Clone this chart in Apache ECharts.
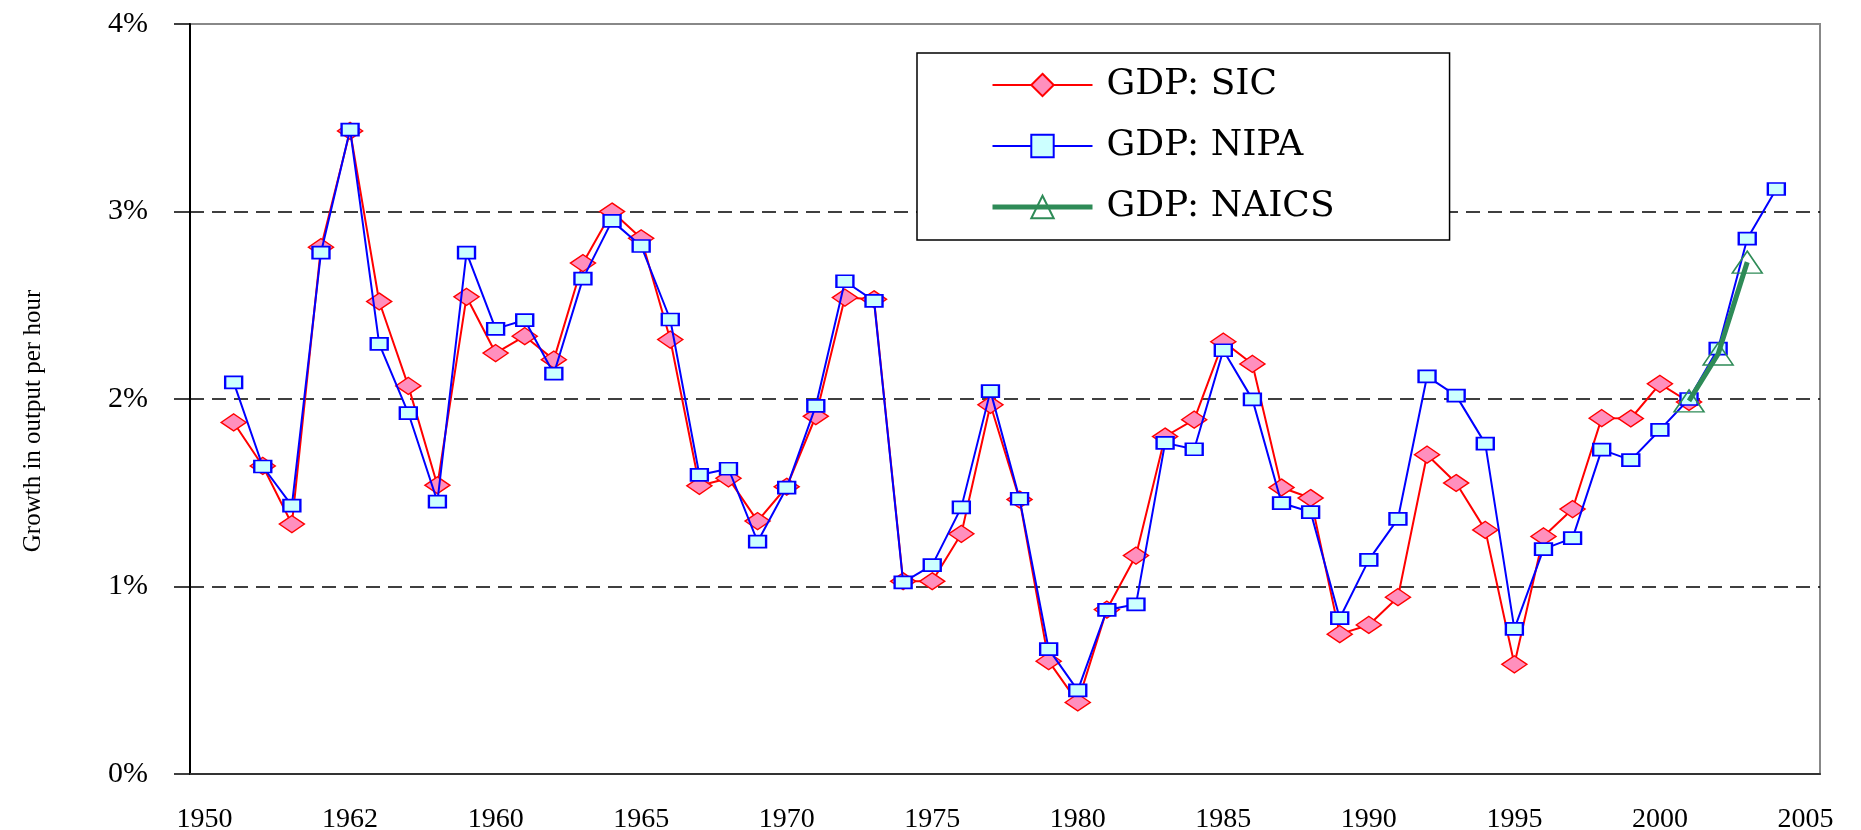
<!DOCTYPE html>
<html>
<head>
<meta charset="utf-8">
<title>Growth in output per hour</title>
<script src="https://cdn.jsdelivr.net/npm/echarts@6/dist/echarts.min.js"></script>
<style>
  html, body { margin: 0; padding: 0; background: #fff; }
  #chart { width: 1861px; height: 830px; }
</style>
</head>
<body>
<div id="chart"></div>
<script>
// one band per year on the x axis
const years = [
  '1950', '1951', '1952', '1953', '1954', '1955', '1956', '1957', '1958', '1959',
  '1960', '1961', '1962', '1963', '1964', '1965', '1966', '1967', '1968', '1969',
  '1970', '1971', '1972', '1973', '1974', '1975', '1976', '1977', '1978', '1979',
  '1980', '1981', '1982', '1983', '1984', '1985', '1986', '1987', '1988', '1989',
  '1990', '1991', '1992', '1993', '1994', '1995', '1996', '1997', '1998', '1999',
  '2000', '2001', '2002', '2003', '2004', '2005'
]
// labels printed every 5 bands (text as it stands in the source figure)
const tickLabels = ['1950', '1962', '1960', '1965', '1970', '1975', '1980', '1985', '1990', '1995', '2000', '2005']

// growth in output per hour, %
const sicStart = '1951'
const sicGrowth = [
  1.875, 1.643, 1.333, 2.81, 3.43, 2.52, 2.07, 1.54, 2.545, 2.245,
  2.335, 2.21, 2.725, 3.0, 2.857, 2.317, 1.537, 1.577, 1.349, 1.532,
  1.908, 2.541, 2.532, 1.028, 1.028, 1.281, 1.969, 1.464, 0.602, 0.382,
  0.877, 1.165, 1.80, 1.89, 2.306, 2.187, 1.528, 1.472, 0.746, 0.795,
  0.943, 1.703, 1.552, 1.302, 0.585, 1.267, 1.413, 1.898, 1.896, 2.081,
  1.984
]
const nipaStart = '1951'
const nipaGrowth = [
  2.089, 1.640, 1.431, 2.781, 3.437, 2.294, 1.925, 1.453, 2.781, 2.374,
  2.421, 2.135, 2.642, 2.950, 2.816, 2.424, 1.595, 1.628, 1.239, 1.527,
  1.963, 2.628, 2.523, 1.022, 1.114, 1.422, 2.042, 1.468, 0.666, 0.446,
  0.875, 0.905, 1.766, 1.732, 2.260, 1.998, 1.445, 1.397, 0.831, 1.142,
  1.361, 2.121, 2.018, 1.762, 0.774, 1.199, 1.258, 1.730, 1.674, 1.835,
  2.0, 2.269, 2.855, 3.120
]
const naicsStart = '2001'
const naicsGrowth = [1.99, 2.24, 2.73]

// place a run of values on the year categories
function onYears(start, values) {
  const i = years.indexOf(start)
  return years.map((y, k) => (k >= i && k < i + values.length ? values[k - i] : null))
}

const chart = echarts.init(document.getElementById('chart'))
chart.setOption({
  animation: false,
  backgroundColor: '#fff',
  grid: {
    left: 190,
    right: 41,
    top: 24,
    bottom: 56,
    show: true,
    borderColor: '#888',
    borderWidth: 2,
    containLabel: false,
    outerBoundsMode: 'none'
  },
  graphic: [{
    type: 'text',
    x: 33,
    y: 421,
    rotation: Math.PI / 2,
    style: {
      text: 'Growth in output per hour',
      font: '25px "Liberation Serif"',
      fill: '#000',
      align: 'center',
      verticalAlign: 'middle',
      textAlign: 'center',
      textVerticalAlign: 'middle'
    }
  }],
  legend: {
    data: [
      { name: 'GDP: SIC' },
      { name: 'GDP: NIPA' },
      { name: 'GDP: NAICS', lineStyle: { width: 5 } }
    ],
    orient: 'vertical',
    left: 917,
    top: 53,
    padding: [14, 115, 15, 73],
    itemWidth: 100,
    itemHeight: 28,
    itemGap: 25,
    borderColor: '#000',
    borderWidth: 1.5,
    backgroundColor: '#fff',
    textStyle: {
      fontFamily: 'DejaVu Serif',
      fontSize: 36,
      lineHeight: 28,
      color: '#000',
      padding: [0, 0, 0, 9]
    }
  },
  xAxis: {
    type: 'category',
    data: years,
    boundaryGap: true,
    axisLine: { lineStyle: { color: '#333', width: 2 } },
    axisTick: { interval: 0, length: 10, lineStyle: { color: '#000', width: 1.5 } },
    axisLabel: {
      interval: (index) => index % 5 === 0,
      formatter: (value, index) => tickLabels[index / 5],
      margin: 32,
      fontFamily: 'Liberation Serif',
      fontSize: 28,
      color: '#000'
    },
    splitLine: { show: false }
  },
  yAxis: {
    type: 'value',
    min: 0,
    max: 4,
    interval: 1,
    axisLine: { show: true, lineStyle: { color: '#000', width: 2 } },
    axisTick: { show: true, length: 16, lineStyle: { color: '#000', width: 1.5 } },
    axisLabel: {
      formatter: '{value}%',
      margin: 42,
      fontFamily: 'Liberation Serif',
      fontSize: 30,
      color: '#000'
    },
    splitLine: {
      show: true,
      lineStyle: {
        color: ['rgba(0,0,0,0)', '#000', '#000', '#000', 'rgba(0,0,0,0)'],
        type: [14, 8],
        width: 1.5
      }
    }
  },
  series: [{
    name: 'GDP: SIC',
    type: 'line',
    data: onYears(sicStart, sicGrowth),
    symbol: 'diamond',
    symbolSize: [25, 17],
    showAllSymbol: true,
    lineStyle: { color: '#ff0000', width: 2 },
    itemStyle: { color: '#ff8fbd', borderColor: '#ff0000', borderWidth: 1.5 },
    z: 2
  }, {
    name: 'GDP: NIPA',
    type: 'line',
    data: onYears(nipaStart, nipaGrowth),
    symbol: 'rect',
    symbolSize: [17, 12],
    showAllSymbol: true,
    lineStyle: { color: '#0000ff', width: 2 },
    itemStyle: { color: '#ccffff', borderColor: '#0000ff', borderWidth: 2 },
    z: 3
  }, {
    name: 'GDP: NAICS',
    type: 'line',
    data: onYears(naicsStart, naicsGrowth),
    symbol: 'triangle',
    symbolSize: [30, 22],
    showAllSymbol: true,
    lineStyle: { color: '#2e8b57', width: 5 },
    itemStyle: { color: 'rgba(255,255,255,0)', borderColor: '#2e8b57', borderWidth: 1.5 },
    z: 4
  }]
})
</script>
</body>
</html>
